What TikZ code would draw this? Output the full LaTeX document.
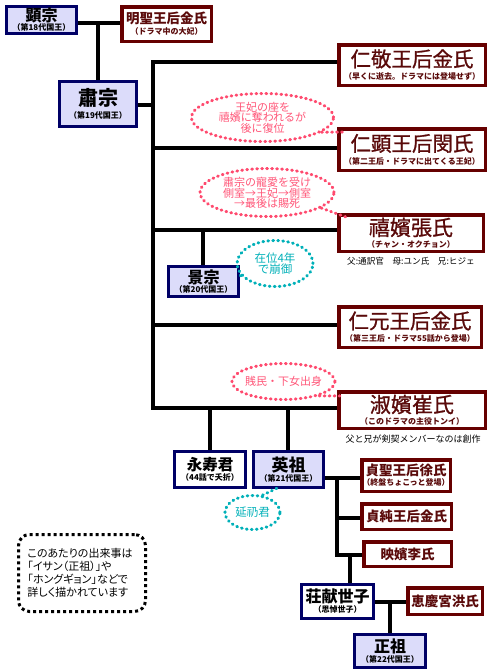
\documentclass[tikz,border=0pt]{standalone}
\usepackage{fontspec}
\setmainfont{Noto Sans CJK JP}
\newfontfamily\pfont{Noto Sans CJK JP}[RawFeature=+palt]
\newfontfamily\medfont{Noto Sans CJK JP}[FakeBold=1]
\usetikzlibrary{shapes.geometric,backgrounds,calc}
\definecolor{navyc}{HTML}{000066}
\definecolor{lav}{HTML}{DCDCFA}
\definecolor{maroonc}{HTML}{660000}
\definecolor{maroontext}{HTML}{5A0A0A}
\definecolor{pinkc}{HTML}{FF4A6E}
\definecolor{pinkt}{HTML}{FF5577}
\definecolor{tealc}{HTML}{00B0B8}
\newcommand{\myfs}[1]{\fontsize{#1}{#1}\selectfont}
\tikzset{
  kingbox/.style={draw=navyc, line width=3pt, fill=lav, inner sep=0pt, align=center, text=black},
  kingw/.style={kingbox, fill=white},
  queenbox/.style={draw=maroonc, line width=3.5pt, fill=white, inner sep=0pt, align=center, text=maroontext},
  conn/.style={line width=4pt, black, line cap=rect, line join=miter},
  pinkdots/.style={draw=pinkc, line width=3pt, dash pattern=on 0.8pt off 4.2pt, line cap=round},
  tealdots/.style={draw=tealc, line width=3pt, dash pattern=on 0.8pt off 4.2pt, line cap=round},
  bubble/.style={ellipse, inner sep=0pt},
  pinktext/.style={text=pinkt, align=center, font=\fontsize{11}{10.5}\selectfont, inner sep=0pt},
  tealtext/.style={text=tealc, align=center, font=\fontsize{11.5}{11.5}\selectfont, inner sep=0pt},
  notetext/.style={inner sep=0pt, font=\myfs{8.6}},
}
\begin{document}
\begin{tikzpicture}[x=1pt, y=-1pt]
\useasboundingbox (0,0) rectangle (490,670);
% boxes
\node[kingbox, minimum width=70pt, minimum height=27pt] (A) at (41.5,19.5)
  {{\myfs{16}\bfseries 顕宗}\\[-2.5pt]{\myfs{8}\bfseries （第18代国王）}};
\node[queenbox, minimum width=89.5pt, minimum height=34.5pt] (B) at (166.5,24)
  {{\myfs{13.5}\bfseries 明聖王后金氏}\\[-1pt]{\myfs{8}\bfseries （ドラマ中の大妃）}};
\node[kingbox, minimum width=77pt, minimum height=45pt] (C) at (98,104)
  {{\myfs{20}\bfseries 肅宗}\\[1pt]{\myfs{8}\bfseries （第19代国王）}};
\node[queenbox, minimum width=146.5pt, minimum height=40.5pt] (D) at (412,65)
  {{\medfont\myfs{20.5}仁敬王后金氏}\\[1pt]{\myfs{8}\bfseries （早くに逝去。ドラマには登場せず）}};
\node[queenbox, minimum width=146.5pt, minimum height=41.5pt] (E) at (412,149.5)
  {{\medfont\myfs{20.5}仁顕王后閔氏}\\[1pt]{\myfs{8}\bfseries （第二王后・ドラマに出てくる王妃）}};
\node[queenbox, minimum width=144.5pt, minimum height=36.5pt] (F) at (411,233)
  {{\medfont\myfs{21}禧嬪張氏}\\[0pt]{\myfs{8}\bfseries （チャン・オクチョン）}};
\node[kingbox, minimum width=70pt, minimum height=30pt] (G) at (203.5,281.5)
  {{\myfs{16}\bfseries 景宗}\\[-2.5pt]{\myfs{8}\bfseries （第20代国王）}};
\node[queenbox, minimum width=142.5pt, minimum height=40.5pt] (H) at (410,327)
  {{\medfont\myfs{20.5}仁元王后金氏}\\[1pt]{\myfs{8}\bfseries （第三王后・ドラマ55話から登場）}};
\node[queenbox, minimum width=146.5pt, minimum height=36.5pt] (I) at (412,410)
  {{\medfont\myfs{21}淑嬪崔氏}\\[0pt]{\myfs{8}\bfseries （このドラマの主役トンイ）}};
\node[kingw, minimum width=71pt, minimum height=36pt] (J) at (210,469.5)
  {{\myfs{15.5}\bfseries 永寿君}\\[-1.5pt]{\myfs{8}\bfseries （44話で夭折）}};
\node[kingbox, minimum width=70pt, minimum height=36pt] (K) at (288.5,469.5)
  {{\myfs{17}\bfseries 英祖}\\[-1.5pt]{\myfs{8}\bfseries （第21代国王）}};
\node[queenbox, minimum width=88.5pt, minimum height=31.5pt] (L) at (406,475.5)
  {{\myfs{13.5}\bfseries 貞聖王后徐氏}\\[-2pt]{\myfs{8}\bfseries （終盤ちょこっと登場）}};
\node[queenbox, minimum width=89.5pt, minimum height=25.5pt] (M) at (406.5,516.5)
  {\myfs{13.5}\bfseries 貞純王后金氏};
\node[queenbox, minimum width=87.5pt, minimum height=24.5pt] (N) at (407.5,554)
  {\myfs{13.5}\bfseries 映嬪李氏};
\node[kingw, minimum width=72pt, minimum height=34pt] (O) at (337.5,601.5)
  {{\myfs{16}\bfseries 荘献世子}\\[-2pt]{\myfs{8}\bfseries （思悼世子）}};
\node[queenbox, minimum width=74.5pt, minimum height=26.5pt] (P) at (445,601)
  {\myfs{13.5}\bfseries 恵慶宮洪氏};
\node[kingbox, minimum width=71pt, minimum height=33pt] (Q) at (390,651)
  {{\myfs{16}\bfseries 正祖}\\[-2pt]{\myfs{8}\bfseries （第22代国王）}};
% small notes
\node[notetext, anchor=north] (Fn) at (411,257) {父:通訳官　母:ユン氏　兄:ヒジェ};
\node[notetext, anchor=north, font=\myfs{9}] (In) at (413,435) {父と兄が剣契メンバーなのは創作};
% junction coordinates
\coordinate (t0) at (98,23);
\coordinate (s1) at (153,105);
\coordinate (v62) at (153,62);
\coordinate (v148) at (153,148);
\coordinate (v230) at (153,230);
\coordinate (g230) at (203,230);
\coordinate (v325) at (153,325);
\coordinate (v408) at (153,408);
\coordinate (j210) at (210,408);
\coordinate (j288) at (288,408);
\coordinate (e478) at (337,478);
\coordinate (e518) at (337,518);
\coordinate (e555) at (337,555);
\coordinate (o555) at (350,555);
\coordinate (p602) at (390,602);
\begin{scope}[on background layer]
\draw[conn] (A.east |- t0) -- (B.west |- t0);
\draw[conn] (t0) -- (C.north);
\draw[conn] (C.east |- s1) -- (s1);
\draw[conn] (v62) -- (v408);
\draw[conn] (v62) -- (D.west |- v62);
\draw[conn] (v148) -- (E.west |- v148);
\draw[conn] (v230) -- (F.west |- v230);
\draw[conn] (g230) -- (g230 |- G.north);
\draw[conn] (v325) -- (H.west |- v325);
\draw[conn] (v408) -- (I.west |- v408);
\draw[conn] (j210) -- (j210 |- J.north);
\draw[conn] (j288) -- (j288 |- K.north);
\draw[conn] (K.east |- e478) -- (L.west |- e478);
\draw[conn] (e478) -- (e555) -- (N.west |- e555);
\draw[conn] (e518) -- (M.west |- e518);
\draw[conn] (o555) -- (o555 |- O.north);
\draw[conn] (O.east |- p602) -- (P.west |- p602);
\draw[conn] (p602) -- (p602 |- Q.north);
\end{scope}
% bubbles
\node[bubble, pinkdots, minimum width=142pt, minimum height=48pt] (b1) at (262.5,117.5) {};
\node[pinktext] (b1t) at (262.5,117.5) {王妃の座を\\禧嬪に奪われるが\\後に復位};
\draw[pinkdots] (b1.-14) -- ($(E.north west)+(7,5)$);
\node[bubble, pinkdots, minimum width=134pt, minimum height=48pt] (b2) at (267,192.5) {};
\node[pinktext] (b2t) at (267,193) {肅宗の寵愛を受け\\側室→王妃→側室\\→最後は賜死};
\draw[pinkdots] (b2.-16) -- ($(F.north west)+(9,4)$);
\node[bubble, tealdots, minimum width=76pt, minimum height=46pt] (b3) at (275,263.5) {};
\node[tealtext] (b3t) at (275,263.5) {在位4年\\で崩御};
\draw[tealdots] (b3.200) -- ($(G.east)+(-2,-8)$);
\node[bubble, pinkdots, minimum width=103pt, minimum height=36pt] (b4) at (283.5,381.5) {};
\node[pinktext] (b4t) at (283.5,381.5) {賎民・下女出身};
\draw[pinkdots] (b4.-22) -- ($(I.north west)+(7,6)$);
\node[bubble, tealdots, minimum width=55pt, minimum height=34pt] (b5) at (252.5,512.5) {};
\node[tealtext] (b5t) at (252.5,512.5) {延礽君};
\draw[tealdots] (b5.60) -- ($(K.south)+(-9,-2)$);
% note box
\node[draw=black, line width=3pt, dash pattern=on 3pt off 3pt, rounded corners=11pt,
      minimum width=127pt, minimum height=77pt, inner sep=0pt] (nt) at (82,573) {};
\node[align=left, inner sep=0pt, font=\pfont\fontsize{11}{13}\selectfont] (ntt) at (80,573)
  {このあたりの出来事は\\「イサン（正祖）」や\\「ホングギョン」などで\\詳しく描かれています};
\end{tikzpicture}
\end{document}
